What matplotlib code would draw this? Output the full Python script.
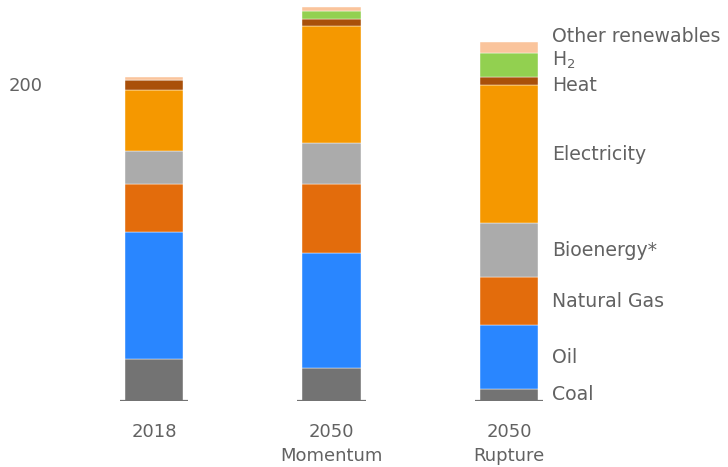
import matplotlib

matplotlib.use("Agg")

import matplotlib.pyplot as plt
import numpy as np

# Final energy demand by carrier, stacked bottom -> top
scenarios = ["2018", "2050\nMomentum", "2050\nRupture"]
carriers = ["Coal", "Oil", "Natural Gas", "Bioenergy*", "Electricity",
            "Heat", "H$_2$", "Other renewables"]
coal = [26.0, 20.8, 7.1]
oil = [80.6, 72.3, 40.4]
natural_gas = [30.3, 44.0, 30.3]
bioenergy = [20.7, 25.5, 34.1]
electricity = [38.4, 73.9, 87.4]
heat = [6.5, 4.6, 5.1]
hydrogen = [0.0, 5.1, 15.2]
other_renewables = [2.1, 2.3, 6.8]

colors = ["#737373", "#2986ff", "#e36c0c", "#ababab", "#f59800",
          "#a9500a", "#92d050", "#fac49c"]
# small nudges so the crowded top labels don't overlap
label_nudge = {"Heat": -3.0, "H$_2$": 3.0, "Other renewables": 7.0}

plt.rcParams["font.family"] = ["DejaVu Sans"]
plt.rcParams["mathtext.default"] = "regular"
text_color = "#626262"

fig = plt.figure(figsize=(7.28, 4.67), dpi=100)
ax = fig.add_axes([55 / 728, (467 - 400.5) / 467, 1 - 55 / 728, 400.5 / 467])

series = [coal, oil, natural_gas, bioenergy, electricity, heat, hydrogen, other_renewables]
x = np.arange(len(scenarios))
bar_width = 0.327
bottom = np.zeros(len(scenarios))
for name, values, color in zip(carriers, series, colors):
    values = np.asarray(values)
    ax.bar(x, values, bar_width, bottom=bottom, color=color,
           edgecolor="white", linewidth=0.3)
    # segment label next to the last bar
    mid = bottom[-1] + values[-1] / 2 + label_nudge.get(name, 0.0)
    ax.text(x[-1] + 0.242, mid, name, ha="left", va="center",
            fontsize=13.6, color=text_color)
    bottom += values

# short baseline under each bar
ax.hlines(np.zeros(len(x)), x - 0.192, x + 0.192, color="#737373", linewidth=1.6)

ax.set_xlim(-0.558, 3.234)
ax.set_ylim(0, 253.1)
for side in ax.spines.values():
    side.set_visible(False)

ax.set_yticks([200])
ax.set_yticklabels(["200"])
ax.set_xticks(x)
ax.set_xticklabels(scenarios)
ax.tick_params(axis="y", length=0, pad=9, labelsize=13, labelcolor=text_color)
ax.tick_params(axis="x", length=0, pad=16, labelsize=13, labelcolor=text_color)
for label in ax.get_xticklabels():
    label.set_linespacing(1.45)

fig.savefig("out.png", dpi=100)
plt.close(fig)
